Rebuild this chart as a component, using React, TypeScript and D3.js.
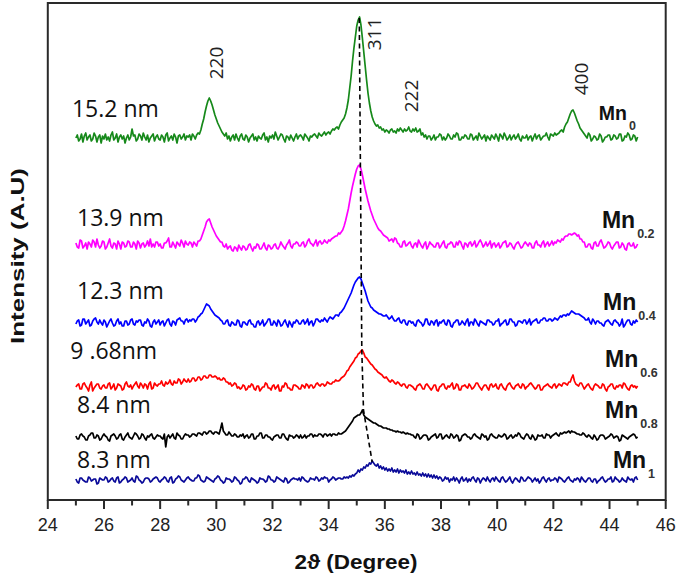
import React from "react";
import * as d3 from "d3";

// 2θ sampling of the patterns (degrees): 25° to 45° every 0.05°
const thetaStart = 25;
const thetaStep = 0.05;

// Intensity above each pattern's own baseline (a.u.), 20 values per degree
const mn0 = [
  0,3,-3,-1,4,-4,2,5,-2,1,3,-3,-1,5,2,-4,1,3,-5,2,
  -1,4,-2,1,-3,3,6,-2,0,4,-4,1,3,-1,2,-5,0,3,-2,1,
  9,2,3,-3,-1,4,2,-2,5,1,-2,3,-4,0,2,4,-3,1,3,-1,
  -2,3,1,-4,3,5,-3,0,2,-2,4,1,-5,2,3,-1,1,4,-2,2,
  1,3,-2,4,2,-1,3,5,4,8,14,19,26,32,37,40,37,33,28,23,
  19,15,12,9,6,4,2,5,-1,2,-3,1,3,-2,4,0,-3,2,4,-1,
  -2,3,1,-4,0,2,4,-2,1,-3,2,0,-1,3,5,-2,1,-4,2,0,
  3,-1,6,2,-2,1,4,3,-1,-4,2,1,-2,3,0,-3,1,4,-1,2,
  3,1,-2,4,2,0,-3,2,1,3,4,2,0,5,3,2,4,6,3,5,
  6,4,7,9,8,10,11,9,13,16,18,20,24,30,38,50,62,77,90,101,
  112,118,121,113,100,86,72,58,45,35,27,21,17,14,12,13,10,11,8,9,
  6,8,7,5,8,9,6,7,5,9,7,10,8,6,9,7,8,11,7,6,
  9,7,10,6,7,9,3,5,1,3,-1,2,2,-2,0,3,-2,1,1,4,
  3,-2,1,-2,0,4,2,-1,-1,3,1,5,4,-2,-2,1,0,3,2,-1,
  -1,4,3,-2,0,2,-2,5,2,-1,1,3,-3,2,0,-2,3,1,-1,4,
  1,-3,4,2,-1,5,2,-2,0,3,-2,1,3,-1,1,4,-1,-3,2,0,
  0,3,-2,1,2,-3,1,4,-1,2,3,-2,0,2,2,5,1,-2,4,3,
  2,5,3,4,5,7,8,6,11,14,16,20,24,27,28,25,21,17,14,10,
  8,6,4,2,0,5,3,-3,-1,2,1,-2,-1,4,2,-4,-2,1,1,3,
  3,-2,-1,3,2,-1,0,4,4,-3,-2,2,1,5,3,-2,-1,3,2,-3,
  1,
];

const mn02 = [
  2,-2,-3,5,4,-3,-1,2,-4,3,1,-2,5,3,-2,6,0,-3,-1,4,
  3,-4,-2,2,6,-1,-3,2,1,-4,4,1,-4,3,2,-2,-1,4,3,-2,
  -2,3,1,-4,4,2,-3,1,2,-2,0,4,-1,6,-2,1,-2,3,3,-1,
  1,-3,-3,2,2,4,7,-2,-2,3,0,-3,3,1,-1,5,2,-2,4,1,
  0,3,2,-2,3,1,-1,4,4,6,10,14,18,23,25,26,22,18,15,12,
  9,7,5,3,3,-1,-2,1,-4,-2,-1,-5,-6,-2,-3,-6,0,-3,-5,-1,
  -2,-5,-4,0,1,-3,-6,-2,-3,1,0,-4,-4,-1,2,-3,-5,0,-1,-4,
  -3,0,1,-3,-4,-1,3,0,-2,-4,0,2,5,-1,-3,1,1,3,2,-1,
  -1,2,3,-2,0,4,6,2,1,-1,2,5,-1,3,4,1,2,5,3,2,
  5,4,6,7,8,9,9,12,11,13,15,19,24,30,36,44,52,59,65,71,
  76,79,80,76,70,63,56,50,44,39,34,30,26,23,20,17,15,14,12,10,
  9,8,7,4,5,6,3,7,6,2,1,-2,-2,3,4,-1,0,2,3,-1,
  -3,1,2,-2,5,2,-1,-3,1,3,-4,-1,3,1,0,-2,-2,2,2,-3,
  -1,2,4,-2,-3,1,1,3,2,-2,-2,3,0,4,3,-1,-4,2,1,-2,
  2,3,-1,1,4,-2,0,3,5,2,-2,0,3,-1,1,4,-3,1,2,-2,
  0,2,-3,-1,2,3,4,-2,-1,2,1,-2,-4,0,2,3,0,-3,-2,1,
  3,1,-1,2,1,-3,-3,2,4,0,0,-2,2,4,-2,1,3,-1,1,4,
  0,3,2,5,4,3,6,5,8,9,9,11,11,10,11,12,11,9,10,6,
  6,3,3,-2,-2,1,1,-3,-4,2,3,-1,-1,3,5,1,-3,-2,0,3,
  2,-2,-4,-1,1,3,3,-3,-2,2,0,-4,-5,1,2,-1,-1,2,-3,-2,
  1,
];

const mn04 = [
  -1,2,3,-3,-2,4,4,-1,1,3,-3,-2,2,4,5,1,-1,3,0,-2,
  3,1,-4,-1,2,4,0,-3,-2,2,4,-1,1,-3,-3,2,2,-2,-1,3,
  4,-1,-2,2,1,3,3,-2,-3,1,0,4,2,-3,-4,1,3,-1,1,3,
  -2,1,2,-3,0,3,4,-1,-3,2,1,-2,3,4,5,2,2,-1,3,4,
  1,3,2,4,4,1,3,6,7,9,10,13,16,19,18,17,14,12,10,8,
  7,6,5,3,2,-1,-1,2,3,-2,-3,1,0,-2,-2,3,2,-3,-4,1,
  1,-1,-2,2,3,-1,-1,-4,-4,1,2,-2,0,3,-3,-1,1,4,4,-2,
  -2,2,0,-3,3,1,-3,-2,1,3,-1,-4,2,-1,-4,1,0,3,2,-1,
  -1,2,3,-1,1,4,-2,1,2,-3,0,4,4,2,1,3,2,5,3,1,
  4,6,5,4,6,8,8,7,10,11,13,15,18,21,24,27,30,34,38,41,
  43,45,46,44,40,36,32,27,22,19,16,15,13,12,11,10,9,9,8,7,
  7,8,6,4,5,7,4,2,2,4,5,1,0,3,3,-1,-2,2,2,0,
  1,-2,-3,2,3,1,0,-3,-1,4,4,-1,-2,2,1,-2,2,3,-3,1,
  0,2,3,-1,-2,3,2,-3,-4,0,1,3,3,-2,-1,2,0,-2,2,4,
  -3,1,1,-2,4,2,-1,-3,2,1,0,-1,-2,3,3,1,1,-2,-1,2,
  2,4,-3,-1,0,2,3,-2,-1,4,4,1,1,-3,-2,2,2,1,0,3,
  3,-1,1,4,-2,1,2,3,4,0,0,3,3,5,5,2,2,4,4,2,
  3,5,4,3,5,7,6,8,8,7,9,8,10,12,11,10,9,9,9,8,
  7,6,5,3,3,5,1,-1,4,2,-1,2,2,0,0,-2,-3,1,2,3,
  1,-1,-2,2,3,1,0,-3,-1,4,-4,-2,1,3,3,-1,-2,2,0,3,
  1,
];

const mn06 = [
  0,2,3,-2,-2,3,4,1,-1,-4,2,5,-4,-1,1,3,3,-1,-2,1,
  2,-1,-1,3,4,-2,0,3,-3,-1,3,2,1,-3,-2,3,5,1,0,2,
  -2,1,3,5,1,-1,4,2,-1,3,2,-2,3,5,-2,-1,4,2,1,3,
  3,6,2,1,5,3,4,7,3,2,6,4,4,8,7,3,5,8,6,5,
  8,5,6,9,9,6,7,10,10,7,8,11,11,9,9,12,12,10,10,11,
  10,8,9,7,7,9,8,5,5,3,4,1,2,4,3,-1,0,-2,-1,2,
  1,-3,-2,1,0,3,2,-2,-3,1,1,-4,-2,0,0,4,3,-1,-1,-3,
  1,2,-2,0,2,-4,-4,1,0,4,3,-1,-1,-3,-3,2,2,1,0,-2,
  -2,2,1,-1,3,2,-1,2,2,-1,0,3,4,2,1,3,3,1,2,5,
  4,3,3,5,5,7,6,6,7,9,10,11,13,16,17,20,22,24,26,29,
  30,33,34,36,37,34,30,29,27,25,23,22,20,18,17,15,14,13,12,10,
  9,10,8,6,5,7,6,4,3,5,4,2,1,3,3,0,-1,2,2,1,
  0,-2,-3,1,2,3,1,-2,-2,2,3,1,-1,-3,-1,2,2,-3,-4,0,
  1,3,3,-1,-2,1,0,2,4,-2,-1,3,2,-3,-3,1,1,2,0,-1,
  3,1,-2,-1,1,4,4,1,-1,-3,0,2,2,-1,-3,2,3,0,1,3,
  -1,-2,2,3,0,-2,-3,1,3,4,1,-1,-2,1,2,3,0,-1,3,2,
  -2,0,1,3,4,2,0,-2,-1,2,2,-3,-3,0,1,2,3,1,0,-1,
  2,3,-1,1,3,2,1,4,4,3,2,5,5,9,12,6,3,2,1,4,
  4,1,-2,0,2,3,0,-2,-3,1,3,2,1,-1,-1,3,2,-2,-4,0,
  1,3,3,-1,-2,1,0,2,2,-1,4,3,0,-2,-3,1,2,0,1,-1,
  1,
];

const mn08 = [
  1,-2,-2,2,3,1,0,-3,-3,1,2,4,4,-1,-1,2,1,-3,-2,1,
  3,1,0,-3,-4,1,2,3,1,-2,-1,2,3,-2,-3,0,2,4,0,-1,
  -2,1,4,3,1,-2,-1,3,2,-1,-3,1,0,2,3,-1,-2,0,2,1,
  1,-1,-2,3,-10,0,2,-1,1,3,-1,-2,4,2,1,-2,-2,1,3,2,
  2,0,1,3,3,2,1,4,4,3,2,5,5,3,4,6,6,4,3,5,
  5,4,3,8,14,6,4,2,2,5,3,1,1,3,2,0,0,2,1,3,
  -1,1,2,-1,0,3,3,-2,-2,1,1,4,4,-1,-1,2,2,0,0,-2,
  -3,0,1,2,2,-1,-1,3,3,0,-2,-3,2,1,1,-1,0,2,1,-1,
  2,-1,0,2,-1,1,1,3,3,0,2,1,1,3,3,2,0,3,3,1,
  2,3,1,3,3,2,2,4,3,3,4,5,6,8,10,12,14,16,19,20,
  21,22,22,24,27,22,20,19,18,17,16,15,14,14,13,12,11,11,10,9,
  9,9,8,8,7,7,6,6,5,6,5,5,4,5,4,3,4,3,3,2,
  2,0,-1,3,2,-2,-1,1,2,2,1,-3,-2,0,1,2,3,-1,0,3,
  3,-2,-1,1,2,0,-1,3,2,-1,0,2,1,-4,-3,1,2,3,2,0,
  0,-2,-1,2,3,1,0,-1,-2,3,2,0,1,-3,-2,2,3,1,0,-1,
  -1,2,1,0,1,3,2,-2,-1,1,2,-1,0,2,1,4,3,0,-1,-2,
  1,3,2,-1,-2,2,0,-3,-2,2,1,1,2,-1,-1,3,2,2,-1,1,
  2,3,4,2,1,4,3,4,5,4,5,6,4,6,5,5,4,3,3,2,
  2,4,3,1,0,2,1,-1,-2,2,0,-3,-2,1,2,2,1,-2,-1,0,
  1,3,2,-1,0,1,0,-4,-3,2,1,0,-1,-2,0,1,2,3,2,-1,
  0,
];

const mn1 = [
  1,-2,-3,2,2,0,-1,-2,-2,3,2,-1,0,1,1,-4,-3,2,1,0,
  0,3,2,-2,-1,1,2,-1,-2,2,3,-3,-2,0,1,3,2,-2,-1,0,
  2,-1,-2,4,3,0,-1,-3,-2,1,2,2,1,-2,-1,1,2,3,2,-1,
  -2,0,1,3,2,-1,-2,2,3,-3,-2,1,2,4,3,0,-1,-2,0,2,
  3,1,0,-1,-1,2,2,5,4,0,-1,-2,-1,3,2,1,0,-1,-2,1,
  2,4,3,0,-1,-3,-2,2,1,1,0,-2,-1,3,2,0,-1,-4,-3,1,
  1,3,2,-1,-2,2,1,0,-1,-3,-2,2,1,1,0,-2,-1,4,3,0,
  0,-2,-1,3,2,1,0,-1,-2,2,1,-3,-2,0,1,2,1,1,0,2,
  -1,3,2,0,-1,-2,-1,2,1,1,0,3,2,-1,0,2,1,3,2,2,
  -2,0,1,3,2,0,1,2,2,1,1,3,2,3,2,4,3,5,4,6,
  7,10,8,11,10,13,12,15,14,17,16,19,17,15,14,16,12,14,11,13,
  10,12,9,11,9,12,8,10,8,11,7,10,8,9,7,10,6,8,6,9,
  6,7,5,8,5,6,4,7,4,6,3,6,3,5,2,5,2,4,1,3,
  2,-1,0,3,1,2,-2,1,0,3,-1,2,0,-3,1,3,-1,0,2,-2,
  1,-1,2,3,0,-2,2,1,-3,0,2,1,-1,3,0,-2,1,2,-1,3,
  1,-1,-2,2,3,0,-2,-1,1,3,-1,-3,0,2,1,-1,-2,3,2,-1,
  -1,1,3,2,1,-2,0,2,-1,1,-3,-1,2,3,0,-2,1,2,-1,0,
  0,2,1,-2,3,2,1,-1,-2,0,2,3,0,-1,-2,1,0,2,1,-2,
  3,1,-1,-2,0,2,2,-1,-2,1,1,-3,-1,0,2,3,0,-2,-1,1,
  1,3,-2,-1,3,1,0,-2,-1,2,0,-1,-2,3,1,0,1,-2,2,3,
  0,
];

// Stacking offsets (a.u.) and colours of the patterns
const patterns = [mn0, mn02, mn04, mn06, mn08, mn1];
const offsets = [362, 255, 177, 113, 63, 20];
const colors = ["#16891a", "#ff00ff", "#0000ff", "#ff0000", "#000000", "#0a0a99"];

// Crystallite sizes and compositions
const sizeLabels = ["15.2 nm", "13.9 nm", "12.3 nm", "9 .68nm", "8.4 nm", "8.3 nm"];
const sizeTheta = [24.86, 25.04, 25.04, 24.8, 25.04, 25.04];
const sizeLevel = [383, 274, 201, 141, 87, 32];
const compSub = ["0", "0.2", "0.4", "0.6", "0.8", "1"];
const compTheta = [43.62, 43.73, 43.77, 43.84, 43.84, 44.12];
const compLevel = [380, 272, 190, 133, 82, 32];
const compSize = [19.5, 23, 23, 23, 23, 23];

// Miller indices
const hklLabels = ["220", "311", "222", "400"];
const hklTheta = [30.24, 35.88, 37.18, 43.23];
const hklLevel = [437, 466, 404, 421];

// Guide through the (311) peak maxima
const guideTheta = [35.09, 35.18, 35.24, 35.55];
const guideLevel = [482, 150, 90, 38];

const xTicks = d3.range(24, 47, 2);
const xMinor = d3.range(25, 46, 2);

const W = 679;
const H = 576;
const left = 47.8;
const right = 665.7;
const top = 3;
const bottom = 500;

export default function App() {
  const x = d3.scaleLinear().domain([24, 46]).range([left, right]);
  const y = d3.scaleLinear().domain([0, 497]).range([bottom, top]);

  const lines = patterns.map((vals, k) =>
    d3
      .line<number>()
      .x((_, i) => x(thetaStart + thetaStep * i))
      .y((v) => y(offsets[k] + v))(vals) as string
  );

  const guide = d3
    .line<number>()
    .x((t) => x(t))
    .y((_, i) => y(guideLevel[i]))(guideTheta) as string;

  const sans = "'Liberation Sans', Arial, sans-serif";
  const soft = "'Open Sans', 'Noto Sans', sans-serif";

  return (
    <svg
      width={W}
      height={H}
      style={{ position: "absolute", left: 0, top: 0, background: "#fff" }}
    >
      <rect x={0} y={0} width={W} height={H} fill="#fff" />
      {lines.map((d, k) => (
        <path
          key={k}
          d={d}
          fill="none"
          stroke={colors[k]}
          strokeWidth={1.7}
          strokeLinejoin="round"
        />
      ))}
      <path d={guide} fill="none" stroke="#000" strokeWidth={1.6} strokeDasharray="5,3.5" />

      {/* frame */}
      <rect
        x={left}
        y={top}
        width={right - left}
        height={bottom - top}
        fill="none"
        stroke="#2a2a2a"
        strokeWidth={2}
      />
      {xTicks.map((t) => (
        <g key={"t" + t}>
          <line x1={x(t)} x2={x(t)} y1={bottom} y2={bottom + 9} stroke="#2a2a2a" strokeWidth={2} />
          <text
            x={x(t)}
            y={531}
            textAnchor="middle"
            fontFamily={sans}
            fontSize={18}
            fill="#222"
          >
            {t}
          </text>
        </g>
      ))}
      {xMinor.map((t) => (
        <line key={"m" + t} x1={x(t)} x2={x(t)} y1={bottom} y2={bottom + 5.5} stroke="#2a2a2a" strokeWidth={2} />
      ))}

      <text
        x={356}
        y={569}
        textAnchor="middle"
        fontFamily={sans}
        fontWeight="bold"
        fontSize={21}
        fill="#111"
        textLength={123}
        lengthAdjust="spacingAndGlyphs"
      >
        2ϑ (Degree)
      </text>
      <text
        transform={`translate(24,256) rotate(-90)`}
        textAnchor="middle"
        fontFamily={sans}
        fontWeight="bold"
        fontSize={19}
        fill="#111"
        textLength={176}
        lengthAdjust="spacingAndGlyphs"
      >
        Intensity (A.U)
      </text>

      {sizeLabels.map((s, k) => (
        <text
          key={"s" + k}
          x={x(sizeTheta[k])}
          y={y(sizeLevel[k])}
          fontFamily={soft}
          fontSize={23}
          fill="#111"
        >
          {s}
        </text>
      ))}

      {compSub.map((s, k) => (
        <text
          key={"c" + k}
          x={x(compTheta[k])}
          y={y(compLevel[k])}
          fontFamily={sans}
          fontWeight="bold"
          fontSize={compSize[k]}
          fill="#111"
        >
          Mn
          <tspan dx={2} dy={10} fontSize={12.5} fill="#333">
            {s}
          </tspan>
        </text>
      ))}

      {hklLabels.map((s, k) => (
        <text
          key={"h" + k}
          transform={`translate(${x(hklTheta[k])},${y(hklLevel[k])}) rotate(-90)`}
          textAnchor="middle"
          fontFamily={soft}
          fontSize={19}
          fill="#222"
        >
          {s}
        </text>
      ))}
    </svg>
  );
}
